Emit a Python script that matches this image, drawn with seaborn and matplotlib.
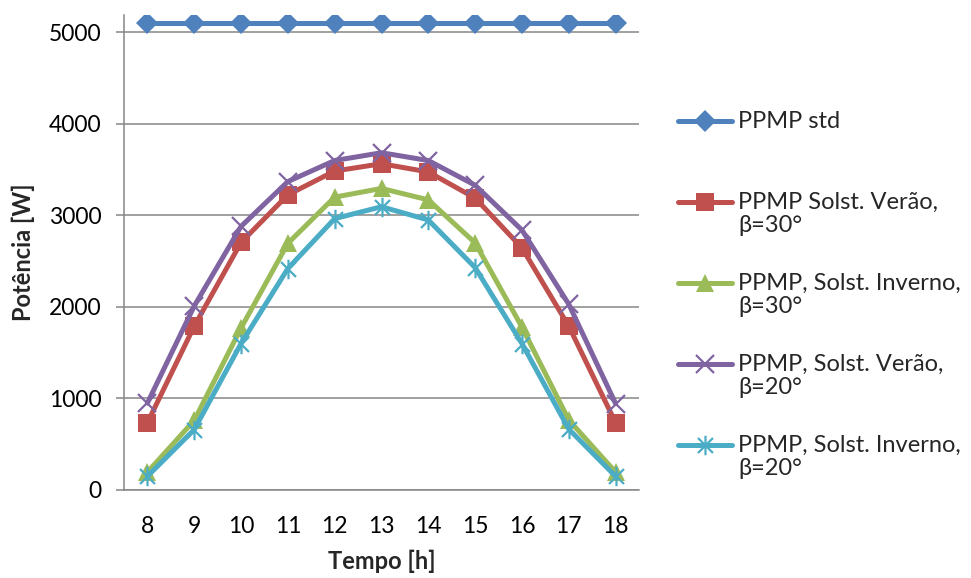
import numpy as np
import pandas as pd
import matplotlib
matplotlib.use("Agg")
import matplotlib.pyplot as plt
from matplotlib.path import Path
from matplotlib.transforms import Affine2D
from matplotlib.legend_handler import HandlerLine2D
import seaborn as sns

# ---- data ----
hours = [8, 9, 10, 11, 12, 13, 14, 15, 16, 17, 18]
ppmp_std = [5100, 5100, 5100, 5100, 5100, 5100, 5100, 5100, 5100, 5100, 5100]
verao_30 = [735, 1790, 2705, 3225, 3485, 3565, 3475, 3190, 2645, 1790, 735]
inverno_30 = [195, 760, 1770, 2695, 3200, 3295, 3170, 2700, 1780, 765, 195]
verao_20 = [950, 2010, 2880, 3370, 3600, 3685, 3600, 3330, 2840, 2030, 945]
inverno_20 = [150, 660, 1600, 2420, 2965, 3095, 2950, 2430, 1600, 665, 150]
labels = ["PPMP std\n ", "PPMP Solst. Verão,\nβ=30°", "PPMP, Solst. Inverno,\nβ=30°",
          "PPMP, Solst. Verão,\nβ=20°", "PPMP, Solst. Inverno,\nβ=20°"]
yticks = [0, 1000, 2000, 3000, 4000, 5000]

# ---- style ----
sns.set_theme(style="white")
plt.rcParams["font.family"] = ["Lato", "DejaVu Sans"]

colors = ["#4F81BD", "#C0504D", "#9BBB59", "#8064A2", "#4BACC6"]
asterisk = Path([(-1, -1), (1, 1), (-1, 1), (1, -1), (0, -1.3), (0, 1.3)],
                [Path.MOVETO, Path.LINETO, Path.MOVETO, Path.LINETO, Path.MOVETO, Path.LINETO])
markers = ["D", "s", "^", "x", asterisk]
msizes = [11, 13, 13, 13, 14]
filled = [True, True, True, False, False]

fig = plt.figure(figsize=(9.71, 5.78), dpi=100)
ax = fig.add_axes([124 / 971, 1 - 490 / 578, (639 - 124) / 971, (490 - 15) / 578])

series = [ppmp_std, verao_30, inverno_30, verao_20, inverno_20]
for vals, lab, c, m, ms, f in zip(series, labels, colors, markers, msizes, filled):
    kw = dict(marker=m, markersize=ms, color=c, linewidth=3.6, label=lab)
    if f:
        kw.update(markeredgewidth=0, markerfacecolor=c)
    else:
        kw.update(markeredgewidth=1.6, markeredgecolor=c)
    sns.lineplot(x=hours, y=vals, ax=ax, **kw)

grey = "#868686"
ax.set_xlim(7.5, 18.5)
ax.set_ylim(0, 5190)
ax.set_xticks(hours)
ax.set_xticklabels([str(h) for h in hours])
ax.set_yticks(yticks)
ax.set_yticklabels([str(v) for v in yticks])
ax.yaxis.grid(True, color=grey, linewidth=1.1)
ax.set_axisbelow(True)
for s in ["top", "right"]:
    ax.spines[s].set_visible(False)
for s in ["left", "bottom"]:
    ax.spines[s].set_color(grey)
    ax.spines[s].set_linewidth(1.1)
ax.tick_params(axis="y", length=6, width=1.1, color=grey, pad=10, labelsize=16.5, labelcolor="black", left=True)
ax.tick_params(axis="x", length=0, pad=19, labelsize=16.5, labelcolor="black")
ax.set_xlabel("Tempo [h]", fontsize=17, fontweight="bold", labelpad=9)
ax.set_ylabel("Potência [W]", fontsize=17, fontweight="bold", labelpad=10)


class FirstLineHandler(HandlerLine2D):
    def create_artists(self, legend, orig_handle, xdescent, ydescent, width, height, fontsize, trans):
        shifted = Affine2D().translate(0, 0.53 * fontsize) + trans
        return super().create_artists(legend, orig_handle, xdescent, ydescent, width, height,
                                      fontsize, shifted)


handles, labs = ax.get_legend_handles_labels()
hmap = {h: FirstLineHandler() for h in handles}
leg = ax.legend(handles, labs, handler_map=hmap, loc="upper left",
                bbox_to_anchor=(678 / 971, 1 - 111 / 578), bbox_transform=fig.transFigure,
                frameon=False, fontsize=17, handlelength=2.3, handletextpad=0.25,
                labelspacing=1.54, borderpad=0, borderaxespad=0)
for t in leg.get_texts():
    t.set_linespacing(1.15)

fig.savefig("out.png", dpi=100)
